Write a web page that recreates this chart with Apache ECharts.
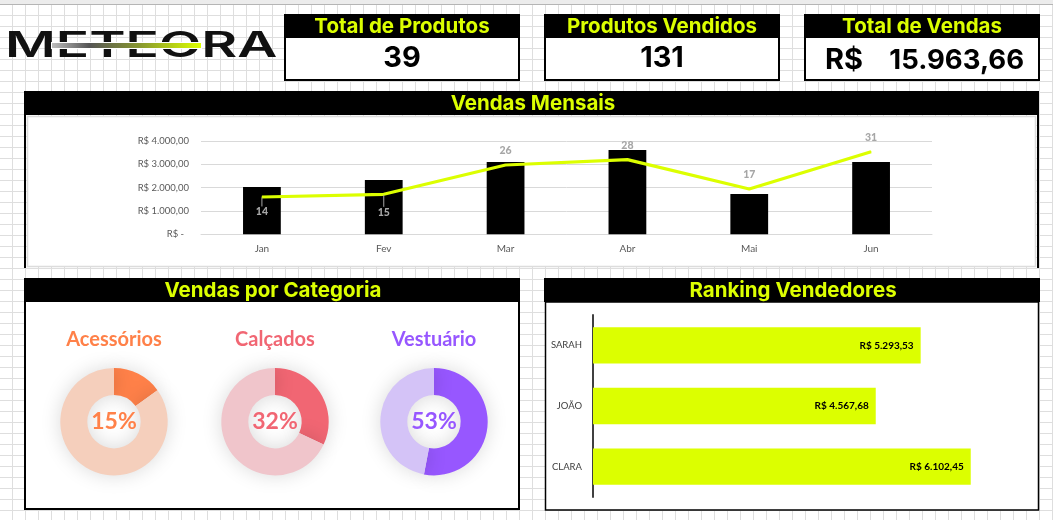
<!DOCTYPE html>
<html>
<head>
<meta charset="utf-8">
<script src="https://cdn.jsdelivr.net/npm/echarts@6/dist/echarts.min.js"></script>
<style>
  html, body { margin: 0; padding: 0; }
  body {
    width: 1053px; height: 520px; overflow: hidden; background-color: #fff;
    background-image: linear-gradient(to right, #dedede 1px, transparent 1px),
                      linear-gradient(to bottom, #dedede 1px, transparent 1px);
    background-size: 13px 11px;
    background-position: 12px 4px;
  }
  #main { width: 1053px; height: 520px; }
</style>
</head>
<body>
<div id="main"></div>
<script>
// dados
var months = ['Jan', 'Fev', 'Mar', 'Abr', 'Mai', 'Jun'];
var monthSales = [2030, 2330, 3100, 3615, 1730, 3100];
var monthQty = [14, 15, 26, 28, 17, 31];
var sellers = ['SARAH', 'JOÃO', 'CLARA'];
var sellerSales = [5293.53, 4567.68, 6102.45];
var categories = ['Acessórios', 'Calçados', 'Vestuário'];
var categoryShare = [15, 32, 53];
var kpiTitles = ['Total de Produtos', 'Produtos Vendidos', 'Total de Vendas'];
var kpiValues = ['39', '131', '15.963,66'];

var LIME = '#dcff00';
var HEAD = '700 20.5px Inter, sans-serif';
var BIG = '700 29px Inter, sans-serif';
var catColors = ['#ff8149', '#f16673', '#9757ff'];
var catPale = ['#f5cfbc', '#f0c5cb', '#d4c3f7'];
var catX = [114, 275, 434];

function rect(x, y, w, h, fill, stroke, lw) {
  return { type: 'rect', z: 0, shape: { x: x, y: y, width: w, height: h },
    style: { fill: fill, stroke: stroke || null, lineWidth: lw || 0 } };
}
function text(t, x, y, font, fill, align) {
  return { type: 'text', z: 3, x: x, y: y,
    style: { text: t, font: font, fill: fill, textAlign: align || 'center', textVerticalAlign: 'middle' } };
}

var g = [];
// faixa do topo da planilha
g.push(rect(0, 0, 1053, 4, '#ececec'));
g.push(rect(0, 4, 1053, 1, '#b5b5b5'));

// logo
g.push({ type: 'text', z: 3, x: 5, y: 46, scaleX: 1.575,
  style: { text: 'METEORA', font: '600 35px Inter, sans-serif', fill: '#111', textAlign: 'left', textVerticalAlign: 'middle' } });
g.push({ type: 'rect', z: 4, shape: { x: 51, y: 42, width: 151, height: 7 }, style: { fill: '#fff' } });
g.push({ type: 'rect', z: 5, shape: { x: 52, y: 43, width: 149, height: 5 },
  style: { fill: new echarts.graphic.LinearGradient(0, 0, 1, 0, [
    { offset: 0, color: '#bdbdbd' }, { offset: 0.25, color: '#555' },
    { offset: 0.6, color: '#8a9a2e' }, { offset: 1, color: '#dcff00' }]) } });

// cards
var cardX = [284, 544, 804];
cardX.forEach(function (x, i) {
  g.push(rect(x + 1, 15, 234, 65, '#fff', '#000', 2));
  g.push(rect(x, 14, 236, 24, '#000'));
  g.push(text(kpiTitles[i], x + 118, 26.5, HEAD, LIME));
  if (i < 2) g.push(text(kpiValues[i], x + 118, 58.5, BIG, '#000'));
});
g.push(text('R$', 825, 60.5, BIG, '#000', 'left'));
g.push(text(kpiValues[2], 1024, 60.5, '700 27.5px Inter, sans-serif', '#000', 'right'));

// painel vendas mensais
g.push(rect(24, 91, 2, 177, '#000'));
g.push(rect(1037, 91, 2, 177, '#000'));
g.push(rect(27.5, 116.5, 1008, 150, '#fff', '#dcdcdc', 1.5));
g.push(rect(24, 91, 1015, 24, '#000'));
g.push(text('Vendas Mensais', 533, 103.5, HEAD, LIME));

// painel categorias
g.push(rect(25, 279, 494, 230, '#fff', '#000', 2));
g.push(rect(24, 278, 496, 24, '#000'));
g.push(text('Vendas por Categoria', 273, 290.5, HEAD, LIME));
categories.forEach(function (c, i) {
  g.push(text(c, catX[i], 340, '700 20px Lato, sans-serif', catColors[i]));
});

// painel ranking
g.push(rect(545.5, 302, 493, 208, '#fff', '#000', 1.5));
g.push(rect(544, 278, 496, 24, '#000'));
g.push(text('Ranking Vendedores', 793, 290.5, HEAD, LIME));

function moeda(v) {
  return 'R$ ' + v.toLocaleString('pt-BR', { minimumFractionDigits: 2, maximumFractionDigits: 2 });
}

var series = [
  { type: 'bar', xAxisIndex: 0, yAxisIndex: 0, data: monthSales, barWidth: '31%',
    itemStyle: { color: '#000' } },
  { type: 'line', xAxisIndex: 0, yAxisIndex: 1, symbol: 'circle', symbolSize: 1, showSymbol: true, z: 4,
    itemStyle: { color: LIME },
    lineStyle: { color: LIME, width: 3.2 },
    label: { show: true, position: 'top', distance: 8, color: '#a6a6a6', textBorderWidth: 0,
      fontFamily: 'Lato', fontSize: 10.5, fontWeight: 900 },
    labelLine: { show: false, lineStyle: { color: '#a6a6a6', width: 1 } },
    // Jan e Fev ficam com o rótulo dentro da barra, puxado por um traço curto
    labelLayout: function (p) {
      if (p.dataIndex === 0) return { dy: 29 };
      if (p.dataIndex === 1) return { dy: 32 };
      return {};
    },
    data: monthQty.map(function (v, i) {
      return { value: v, labelLine: { show: i < 2 } };
    }) },
  { type: 'bar', xAxisIndex: 1, yAxisIndex: 2, data: sellerSales, barWidth: '60%',
    itemStyle: { color: LIME },
    label: { show: true, position: 'insideRight', distance: 7, color: '#000', fontFamily: 'Lato',
      fontSize: 10, fontWeight: 700, formatter: function (p) { return moeda(p.value); } } }
];

categoryShare.forEach(function (v, i) {
  series.push({
    type: 'pie', center: [catX[i], 421.7], radius: [26.7, 53.7], startAngle: 90, silent: true,
    labelLine: { show: false },
    data: [
      { value: v, itemStyle: { color: catColors[i] },
        label: { show: true, position: 'center', formatter: v + '%', color: catColors[i],
          fontFamily: 'Lato', fontSize: 23, fontWeight: 700 } },
      { value: 100 - v, itemStyle: { color: catPale[i] }, label: { show: false } }
    ],
    itemStyle: { shadowBlur: 20, shadowColor: 'rgba(0,0,0,0.15)' }
  });
});

var chart = echarts.init(document.getElementById('main'), null, { width: 1053, height: 520 });
chart.setOption({
  animation: false,
  backgroundColor: 'transparent',
  graphic: { elements: g },
  grid: [
    { left: 201, top: 141, width: 731, height: 93.3 },
    { left: 593, top: 315, width: 433.3, height: 182 }
  ],
  xAxis: [
    { type: 'category', gridIndex: 0, data: months,
      axisLine: { lineStyle: { color: '#d9d9d9' } }, axisTick: { show: false },
      axisLabel: { color: '#595959', fontFamily: 'Lato', fontSize: 10, margin: 9 } },
    { type: 'value', gridIndex: 1, min: 0, max: 7000, show: false }
  ],
  yAxis: [
    { type: 'value', gridIndex: 0, min: 0, max: 4000, interval: 1000,
      axisLine: { show: false }, axisTick: { show: false },
      splitLine: { lineStyle: { color: '#d9d9d9' } },
      axisLabel: { color: '#595959', fontFamily: 'Lato', fontSize: 9.5, margin: 12,
        formatter: function (v) { return v === 0 ? 'R$ -  ' : moeda(v); } } },
    { type: 'value', gridIndex: 0, min: 0, max: 35, show: false },
    { type: 'category', gridIndex: 1, data: sellers, inverse: true,
      axisLine: { lineStyle: { color: '#404040', width: 2 } }, axisTick: { show: false },
      axisLabel: { color: '#404040', fontFamily: 'Lato', fontSize: 9.5, margin: 11 } }
  ],
  series: series
});
</script>
</body>
</html>
